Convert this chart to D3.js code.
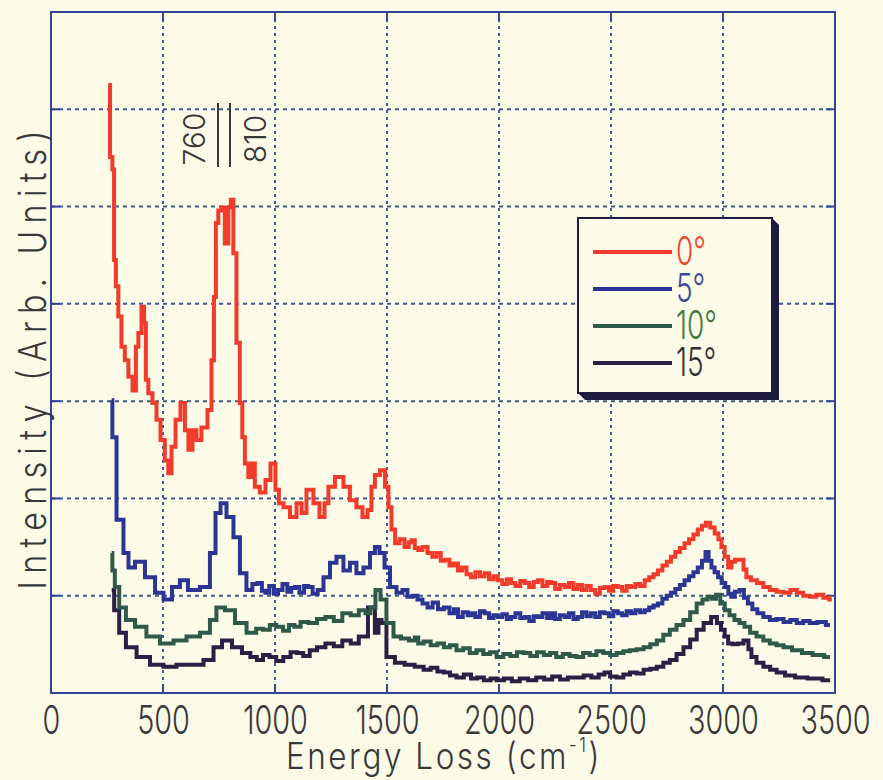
<!DOCTYPE html>
<html>
<head>
<meta charset="utf-8">
<script src="https://cdn.jsdelivr.net/npm/d3@7"></script>
<style>
  body { margin: 0; background: #fcfbe8; }
  svg { display: block; }
</style>
</head>
<body>
<div id="plot"></div>
<script>
// Data: [energy loss (cm-1), intensity (arb.)]
const xTicks = [0, 500, 1000, 1500, 2000, 2500, 3000, 3500];
const yGrid = [1, 2, 3, 4, 5, 6];

const series0 = [[256,6.25],[271,5.51],[277,5.38],[286,4.45],[293,4.18],[308,3.87],[321,3.56],[338,3.42],[353,3.25],[375,3.11],
  [383,3.56],[397,3.70],[411,3.97],[420,3.80],[427,3.22],[442,3.08],[464,2.98],[478,2.81],[500,2.60],[516,2.39],[531,2.26],
  [545,2.53],[567,2.81],[589,2.98],[607,2.70],[620,2.50],[643,2.70],[656,2.60],[687,2.73],[710,2.91],[723,3.42],[732,4.07],
  [740,4.83],[754,4.96],[768,4.99],[784,4.62],[799,4.99],[807,5.07],[821,4.52],[835,3.60],[851,2.98],[857,2.63],[874,2.36],
  [888,2.22],[902,2.36],[918,2.12],[946,2.06],[969,2.19],[991,2.36],[1013,2.09],[1022,1.95],[1054,1.91],[1080,1.81],
  [1112,1.95],[1125,1.85],[1156,2.09],[1187,1.95],[1210,1.81],[1232,1.95],[1245,2.12],[1290,2.22],[1321,2.12],[1348,1.98],
  [1379,1.91],[1402,1.81],[1424,1.88],[1437,2.12],[1455,2.24],[1482,2.29],[1500,2.12],[1513,1.91],[1527,1.68],[1545,1.54],
  [1567,1.58],[1589,1.50],[1605,1.55],[1616,1.57],[1632,1.49],[1647,1.47],[1670,1.50],[1692,1.44],[1712,1.40],[1730,1.44],
  [1750,1.36],[1768,1.37],[1790,1.31],[1808,1.33],[1826,1.26],[1845,1.29],[1865,1.22],[1884,1.19],[1905,1.24],[1925,1.20],
  [1946,1.23],[1965,1.17],[1985,1.20],[2004,1.16],[2025,1.12],[2045,1.17],[2062,1.13],[2085,1.10],[2105,1.15],[2125,1.13],
  [2145,1.09],[2165,1.14],[2183,1.16],[2205,1.10],[2225,1.14],[2241,1.13],[2260,1.07],[2283,1.11],[2303,1.09],[2322,1.13],
  [2342,1.07],[2361,1.11],[2380,1.06],[2400,1.10],[2419,1.06],[2440,1.02],[2460,1.08],[2482,1.09],[2500,1.05],[2520,1.10],
  [2540,1.09],[2560,1.05],[2580,1.10],[2598,1.09],[2620,1.12],[2640,1.10],[2661,1.16],[2680,1.19],[2700,1.22],[2719,1.26],
  [2740,1.31],[2758,1.35],[2777,1.40],[2797,1.45],[2818,1.49],[2839,1.54],[2858,1.58],[2878,1.63],[2897,1.68],[2915,1.72],
  [2933,1.75],[2953,1.70],[2973,1.64],[2986,1.58],[3000,1.50],[3015,1.40],[3031,1.29],[3045,1.35],[3062,1.37],[3085,1.37],
  [3098,1.27],[3111,1.19],[3138,1.16],[3165,1.13],[3195,1.09],[3223,1.06],[3255,1.04],[3286,1.03],[3315,1.06],[3344,1.03],
  [3372,1.00],[3402,0.99],[3432,1.01],[3464,0.98],[3486,0.96]];

const series5 = [[271,3.01],[277,2.63],[308,1.78],[339,1.44],[353,1.29],[397,1.35],[442,1.19],[487,1.03],[518,0.96],[562,1.09],
  [589,1.16],[634,1.06],[696,1.09],[723,1.44],[746,1.85],[768,1.95],[799,1.81],[830,1.60],[857,1.23],[888,1.06],[910,1.12],
  [933,1.13],[950,1.05],[964,1.03],[985,1.10],[1005,1.02],[1022,1.06],[1045,1.12],[1065,1.04],[1080,1.08],[1098,1.09],
  [1120,1.03],[1140,1.10],[1156,1.09],[1180,1.02],[1201,1.06],[1232,1.19],[1259,1.34],[1290,1.40],[1321,1.26],[1348,1.34],
  [1379,1.23],[1411,1.29],[1437,1.44],[1455,1.50],[1478,1.44],[1500,1.29],[1527,1.09],[1558,1.03],[1580,1.06],[1603,0.99],
  [1625,1.00],[1647,0.96],[1670,0.92],[1692,0.88],[1715,0.93],[1740,0.86],[1768,0.88],[1790,0.82],[1808,0.86],[1826,0.78],
  [1850,0.83],[1870,0.80],[1884,0.82],[1905,0.78],[1925,0.84],[1946,0.82],[1965,0.77],[1985,0.80],[2004,0.78],[2025,0.81],
  [2045,0.76],[2062,0.78],[2085,0.82],[2105,0.77],[2125,0.78],[2145,0.74],[2165,0.79],[2183,0.78],[2205,0.82],[2225,0.77],
  [2241,0.82],[2260,0.76],[2283,0.80],[2303,0.78],[2322,0.82],[2342,0.76],[2361,0.78],[2380,0.83],[2400,0.79],[2419,0.82],
  [2440,0.78],[2460,0.83],[2482,0.82],[2500,0.79],[2520,0.84],[2540,0.82],[2560,0.80],[2580,0.84],[2598,0.82],[2620,0.85],
  [2640,0.83],[2661,0.85],[2680,0.88],[2700,0.90],[2719,0.92],[2740,0.97],[2758,1.00],[2777,1.03],[2797,1.07],[2818,1.11],
  [2839,1.16],[2858,1.20],[2878,1.24],[2897,1.29],[2915,1.36],[2929,1.45],[2942,1.36],[2955,1.29],[2970,1.24],[2986,1.19],
  [3002,1.13],[3018,1.09],[3030,1.02],[3044,0.99],[3062,1.04],[3085,1.06],[3102,0.98],[3120,0.92],[3142,0.86],[3165,0.82],
  [3195,0.78],[3223,0.75],[3255,0.76],[3286,0.73],[3315,0.75],[3344,0.72],[3372,0.74],[3402,0.72],[3440,0.73],[3478,0.70]];

const series10 = [[271,1.44],[277,1.26],[293,1.09],[316,0.88],[353,0.75],[397,0.68],[455,0.58],[518,0.51],[576,0.54],[634,0.58],
  [696,0.62],[723,0.75],[754,0.88],[799,0.85],[844,0.72],[902,0.62],[930,0.66],[964,0.65],[990,0.70],[1022,0.68],[1050,0.64],
  [1075,0.70],[1098,0.68],[1130,0.73],[1170,0.72],[1205,0.76],[1245,0.78],[1280,0.74],[1321,0.82],[1355,0.80],[1393,0.85],
  [1415,0.82],[1437,0.88],[1460,1.06],[1482,0.96],[1513,0.72],[1545,0.58],[1580,0.56],[1616,0.54],[1632,0.57],[1647,0.51],
  [1680,0.53],[1710,0.49],[1740,0.51],[1768,0.47],[1795,0.49],[1825,0.44],[1855,0.46],[1884,0.41],[1915,0.44],[1945,0.40],
  [1975,0.42],[2004,0.37],[2035,0.40],[2065,0.38],[2095,0.42],[2125,0.41],[2155,0.38],[2185,0.42],[2215,0.39],[2241,0.41],
  [2270,0.37],[2300,0.40],[2330,0.38],[2361,0.37],[2390,0.41],[2420,0.39],[2450,0.43],[2482,0.41],[2510,0.39],[2540,0.41],
  [2570,0.43],[2598,0.44],[2630,0.45],[2661,0.47],[2690,0.50],[2719,0.54],[2748,0.60],[2777,0.65],[2808,0.70],[2839,0.75],
  [2868,0.83],[2897,0.92],[2920,0.96],[2942,0.99],[2960,0.97],[2978,1.01],[2998,0.92],[3018,0.85],[3040,0.80],[3062,0.75],
  [3085,0.72],[3107,0.68],[3135,0.62],[3165,0.58],[3195,0.54],[3223,0.51],[3255,0.49],[3286,0.47],[3330,0.44],[3375,0.41],
  [3425,0.39],[3478,0.37]];

const series15 = [[271,1.06],[293,0.85],[316,0.62],[353,0.47],[411,0.37],[473,0.29],[531,0.27],[589,0.29],[652,0.29],[710,0.34],
  [741,0.47],[786,0.54],[830,0.47],[875,0.41],[905,0.37],[933,0.34],[960,0.39],[991,0.37],[1020,0.33],[1054,0.37],[1085,0.42],
  [1112,0.41],[1140,0.38],[1170,0.44],[1205,0.47],[1245,0.51],[1280,0.48],[1321,0.54],[1355,0.51],[1393,0.58],[1437,0.88],
  [1455,0.62],[1469,0.75],[1482,0.72],[1513,0.37],[1558,0.31],[1600,0.29],[1647,0.27],[1680,0.24],[1710,0.26],[1740,0.22],
  [1768,0.21],[1795,0.18],[1826,0.16],[1860,0.19],[1890,0.15],[1915,0.16],[1950,0.13],[1975,0.15],[2004,0.13],[2040,0.15],
  [2075,0.12],[2110,0.15],[2150,0.13],[2183,0.16],[2220,0.14],[2255,0.17],[2290,0.14],[2325,0.16],[2361,0.16],[2395,0.18],
  [2430,0.16],[2460,0.19],[2482,0.21],[2510,0.17],[2540,0.16],[2570,0.19],[2600,0.21],[2630,0.20],[2661,0.24],[2690,0.25],
  [2719,0.27],[2748,0.31],[2777,0.34],[2808,0.40],[2839,0.47],[2868,0.55],[2897,0.65],[2930,0.72],[2964,0.78],[2982,0.72],
  [3000,0.65],[3015,0.58],[3031,0.51],[3055,0.50],[3076,0.51],[3107,0.54],[3120,0.45],[3134,0.37],[3165,0.31],[3196,0.27],
  [3225,0.24],[3254,0.21],[3300,0.18],[3344,0.16],[3410,0.15],[3478,0.13]];

const seriesNames = ["0°", "5°", "10°", "15°"];
const seriesData = [series0, series5, series10, series15];
const lineColors = ["#f23b2b", "#2b3594", "#2f5a48", "#2a2046"];
const labelColors = ["#ee4a2a", "#3c4a98", "#3f7a3c", "#333333"];

// Layout
const W = 883, H = 780;
const plot = {left: 51, right: 835, top: 12, bottom: 693};
const bg = "#fcfbe8";
const frameColor = "#34449a";
const gridColor = "#3d5a94";
const font = "Inter, 'DejaVu Sans', sans-serif";
const textColor = "#383838";

const svg = d3.select("#plot").append("svg")
  .attr("width", W)
  .attr("height", H);

svg.append("rect")
  .attr("width", W).attr("height", H)
  .attr("fill", bg);

const x = d3.scaleLinear().domain([0, 3500]).range([plot.left, plot.right]);
const y = d3.scaleLinear().domain([0, 7]).range([plot.bottom, plot.top]);

// dotted grid
const grid = svg.append("g");
grid.selectAll(".vg")
  .data(xTicks.slice(1, -1))
  .join("line")
    .attr("x1", d => x(d)).attr("x2", d => x(d))
    .attr("y1", plot.top).attr("y2", plot.bottom)
    .attr("stroke", gridColor)
    .attr("stroke-width", 2)
    .attr("stroke-dasharray", "3,4");
grid.selectAll(".hg")
  .data(yGrid)
  .join("line")
    .attr("x1", plot.left).attr("x2", plot.right)
    .attr("y1", d => y(d)).attr("y2", d => y(d))
    .attr("stroke", gridColor)
    .attr("stroke-width", 2)
    .attr("stroke-dasharray", "4,4");

// inner ticks on frame
const tickLen = 9;
const ticks = svg.append("g").attr("stroke", frameColor).attr("stroke-width", 2);
xTicks.slice(1, -1).forEach(d => {
  ticks.append("line").attr("x1", x(d)).attr("x2", x(d)).attr("y1", plot.bottom).attr("y2", plot.bottom - tickLen);
  ticks.append("line").attr("x1", x(d)).attr("x2", x(d)).attr("y1", plot.top).attr("y2", plot.top + tickLen);
});
yGrid.forEach(d => {
  ticks.append("line").attr("x1", plot.left).attr("x2", plot.left + tickLen).attr("y1", y(d)).attr("y2", y(d));
  ticks.append("line").attr("x1", plot.right).attr("x2", plot.right - tickLen).attr("y1", y(d)).attr("y2", y(d));
});

// spectra
const line = d3.line()
  .x(d => x(d[0]))
  .y(d => y(d[1]))
  .curve(d3.curveStep);

svg.append("g")
  .selectAll("path")
  .data(seriesData.slice().reverse())
  .join("path")
    .attr("d", line)
    .attr("fill", "none")
    .attr("stroke", (d, i) => lineColors[3 - i])
    .attr("stroke-width", 4);

// frame
svg.append("rect")
  .attr("x", plot.left).attr("y", plot.top)
  .attr("width", plot.right - plot.left)
  .attr("height", plot.bottom - plot.top)
  .attr("fill", "none")
  .attr("stroke", frameColor)
  .attr("stroke-width", 2);

// x axis labels
const xAxis = d3.axisBottom(x).tickValues(xTicks).tickSize(0).tickFormat(d3.format("d"));
const gx = svg.append("g")
  .attr("transform", `translate(0, ${plot.bottom})`)
  .call(xAxis);
gx.select(".domain").remove();
gx.selectAll("text")
  .attr("font-family", font)
  .attr("font-weight", 300)
  .attr("font-size", 40)
  .attr("fill", textColor)
  .attr("dy", 0)
  .attr("y", 0)
  .attr("transform", "translate(0, 41) scale(0.72,1)");

// x axis title
const xt = svg.append("text")
  .attr("transform", `translate(444, 769) scale(0.85,1)`)
  .attr("text-anchor", "middle")
  .attr("font-family", font)
  .attr("font-weight", 300)
  .attr("font-size", 37)
  .attr("letter-spacing", 3)
  .attr("fill", textColor);
xt.append("tspan").text("Energy Loss (cm");
xt.append("tspan").attr("font-size", 20).attr("dy", -17).text("-1");
xt.append("tspan").attr("dy", 17).text(")");

// y axis title
svg.append("text")
  .attr("transform", `translate(46, 360) rotate(-90) scale(0.85,1)`)
  .attr("text-anchor", "middle")
  .attr("font-family", font)
  .attr("font-weight", 300)
  .attr("font-size", 38)
  .attr("fill", textColor)
  .attr("textLength", 540)
  .attr("lengthAdjust", "spacing")
  .text("Intensity (Arb. Units)");

// peak annotation 760 / 810
[["760", 205], ["810", 266]].forEach(([t, px]) => {
  svg.append("text")
    .attr("transform", `translate(${px}, 139) rotate(-90)`)
    .attr("text-anchor", "middle")
    .attr("font-family", font)
    .attr("font-weight", 300)
    .attr("font-size", 30)
    .attr("fill", textColor)
    .text(t);
});
[218, 230].forEach(px => {
  svg.append("line")
    .attr("x1", px).attr("x2", px)
    .attr("y1", 103).attr("y2", 167)
    .attr("stroke", textColor).attr("stroke-width", 2);
});

// legend
const lg = {x: 578, y: 218, w: 194, h: 175, s: 7};
svg.append("polygon")
  .attr("points", [
    [lg.x + lg.w, lg.y], [lg.x + lg.w + lg.s, lg.y + lg.s],
    [lg.x + lg.w + lg.s, lg.y + lg.h + lg.s], [lg.x + lg.s, lg.y + lg.h + lg.s],
    [lg.x, lg.y + lg.h]].map(p => p.join(",")).join(" "))
  .attr("fill", "#1d1b3e");
svg.append("rect")
  .attr("x", lg.x).attr("y", lg.y)
  .attr("width", lg.w).attr("height", lg.h)
  .attr("fill", bg)
  .attr("stroke", "#1d1b3e")
  .attr("stroke-width", 2);

const legendY = d3.scalePoint().domain(seriesNames).range([252, 363]);
const items = svg.append("g").selectAll("g")
  .data(seriesNames)
  .join("g")
    .attr("transform", d => `translate(0, ${legendY(d)})`);
items.append("line")
  .attr("x1", 593).attr("x2", 672)
  .attr("stroke", (d, i) => lineColors[i])
  .attr("stroke-width", 4);
items.append("text")
  .attr("transform", "translate(676, 13) scale(0.7,1)")
  .attr("font-family", font)
  .attr("font-weight", 300)
  .attr("font-size", 40)
  .attr("fill", (d, i) => labelColors[i])
  .text(d => d);
</script>
</body>
</html>
